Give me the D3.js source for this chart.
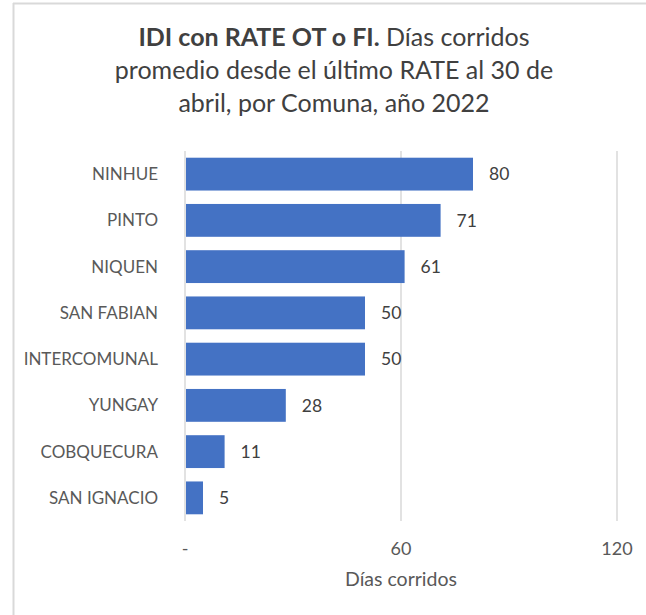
<!DOCTYPE html>
<html>
<head>
<meta charset="utf-8">
<script src="https://cdn.jsdelivr.net/npm/d3@7"></script>
<style>
  body { margin: 0; background: #fff; }
  text { font-family: Lato, "Open Sans", sans-serif; }
</style>
</head>
<body>
<svg id="chart" width="646" height="615"></svg>
<script>
var comunas = ["NINHUE","PINTO","NIQUEN","SAN FABIAN","INTERCOMUNAL","YUNGAY","COBQUECURA","SAN IGNACIO"]
var dias = [80, 71, 61, 50, 50, 28, 11, 5]
var ticks = [0, 60, 120]
var tickLabels = ["-", "60", "120"]

var width = 646, height = 615
var margin = {top: 151, left: 185, right: 29, bottom: 95}

var svg = d3.select("#chart")

// chart frame (only top and left edge visible in the picture)
svg.append("line").attr("x1",13).attr("x2",646).attr("y1",3.5).attr("y2",3.5)
   .style("stroke","#d9d9d9").style("stroke-width",2)
svg.append("line").attr("x1",13.5).attr("x2",13.5).attr("y1",3).attr("y2",615)
   .style("stroke","#d9d9d9").style("stroke-width",2)

var x = d3.scaleLinear()
  .domain([0, 120])
  .range([margin.left, width - margin.right])

var y = d3.scaleBand()
  .domain(comunas)
  .range([margin.top, height - margin.bottom + 1])
  .paddingInner(0.29)
  .paddingOuter(0.145)

// gridlines
svg.selectAll(".grid")
  .data(ticks)
  .join("line")
  .attr("class","grid")
  .attr("x1", d => x(d)).attr("x2", d => x(d))
  .attr("y1", margin.top).attr("y2", height - margin.bottom + 1)
  .style("stroke","#d9d9d9").style("stroke-width",1.5)

// bars
svg.selectAll(".bar")
  .data(dias)
  .join("rect")
  .attr("class","bar")
  .attr("x", x(0) + 1)
  .attr("y", (d,i) => y(comunas[i]))
  .attr("width", d => x(d) - x(0) - 1)
  .attr("height", y.bandwidth())
  .style("fill","#4472c4")

// value labels
svg.selectAll(".val")
  .data(dias)
  .join("text")
  .attr("class","val")
  .attr("x", d => x(d) + 16)
  .attr("y", (d,i) => y(comunas[i]) + y.bandwidth()/2)
  .attr("dy","0.36em")
  .style("font-size","17.5px")
  .style("fill","#404040")
  .text(d => d)

// category labels
svg.selectAll(".cat")
  .data(comunas)
  .join("text")
  .attr("class","cat")
  .attr("x", 158)
  .attr("y", d => y(d) + y.bandwidth()/2)
  .attr("dy","0.36em")
  .attr("text-anchor","end")
  .style("font-size","17px")
  .style("fill","#595959")
  .text(d => d)

// x tick labels
svg.selectAll(".tick")
  .data(ticks)
  .join("text")
  .attr("class","tick")
  .attr("x", d => x(d))
  .attr("y", 555)
  .attr("text-anchor","middle")
  .style("font-size","18px")
  .style("fill","#595959")
  .text((d,i) => tickLabels[i])

svg.append("text")
  .attr("x", x(60))
  .attr("y", 586)
  .attr("text-anchor","middle")
  .style("font-size","19.5px")
  .style("fill","#595959")
  .text("Días corridos")

// title
var title = svg.append("text")
  .attr("text-anchor","middle")
  .style("font-size","25px")
  .style("fill","#404040")
var l1 = title.append("tspan").attr("x",334).attr("y",46)
l1.append("tspan").style("font-weight","bold").text("IDI con RATE OT o FI.")
l1.append("tspan").text(" Días corridos")
title.append("tspan").attr("x",334).attr("y",79).text("promedio desde el último RATE al 30 de")
title.append("tspan").attr("x",334).attr("y",112).text("abril, por Comuna, año 2022")
</script>
</body>
</html>
